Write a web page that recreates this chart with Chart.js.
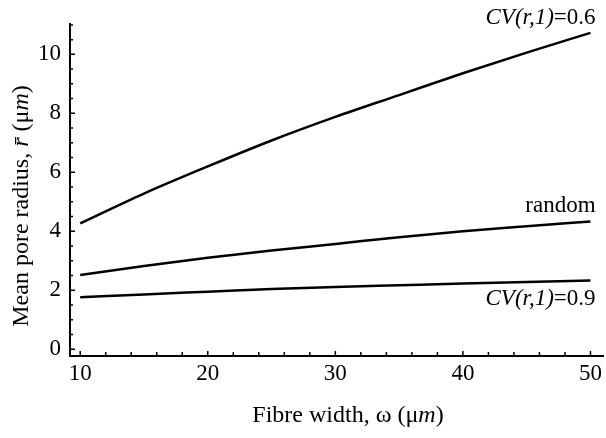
<!DOCTYPE html>
<html>
<head>
<meta charset="utf-8">
<script src="https://cdn.jsdelivr.net/npm/chart.js@4"></script>
<style>
  html, body { margin: 0; padding: 0; background: #fff; }
  #wrap { width: 606px; height: 438px; }
</style>
</head>
<body>
<div id="wrap"><canvas id="poreChart"></canvas></div>
<script>
const widths = [10, 15, 20, 25, 30, 35, 40, 45, 50];

const cv06 = [4.27, 5.28, 6.2, 7.08, 7.88, 8.62, 9.36, 10.06, 10.73];
const randomR = [2.52, 2.82, 3.1, 3.35, 3.57, 3.8, 4.0, 4.17, 4.33];
const cv09 = [1.76, 1.86, 1.95, 2.04, 2.11, 2.17, 2.23, 2.28, 2.33];

const xTicks = [10, 20, 30, 40, 50];
const yTicks = [0, 2, 4, 6, 8, 10];

const serif = '"Liberation Serif", "DejaVu Serif", serif';

// Right-side curve labels: [parts, x, y]
const curveLabels = [
  [[['CV(r,1)', true], ['=0.6', false]], 50.4, 11.25],
  [[['random', false]], 50.4, 4.85],
  [[['CV(r,1)', true], ['=0.9', false]], 50.4, 1.72]
];

function pts(ys) {
  return widths.map((w, i) => ({ x: w, y: ys[i] }));
}

function drawRich(ctx, parts, x, y, size, align) {
  let total = 0;
  parts.forEach(p => {
    ctx.font = (p[1] ? 'italic ' : '') + size + 'px ' + serif;
    total += ctx.measureText(p[0]).width;
  });
  let cx = align === 'right' ? x - total : (align === 'center' ? x - total / 2 : x);
  ctx.textAlign = 'left';
  ctx.textBaseline = 'middle';
  ctx.fillStyle = '#000';
  parts.forEach(p => {
    ctx.font = (p[1] ? 'italic ' : '') + size + 'px ' + serif;
    ctx.fillText(p[0], cx, y);
    cx += ctx.measureText(p[0]).width;
  });
}

const extras = {
  id: 'extras',
  afterDraw(chart) {
    const ctx = chart.ctx;
    const xs = chart.scales.x, ys = chart.scales.y;
    const area = chart.chartArea;
    ctx.save();
    ctx.strokeStyle = '#000';
    ctx.lineWidth = 1.5;
    // inward ticks
    ctx.beginPath();
    for (let v = 10; v <= 50; v += 2) {
      const px = xs.getPixelForValue(v);
      const len = xTicks.includes(v) ? 5 : 4;
      ctx.moveTo(px, area.bottom);
      ctx.lineTo(px, area.bottom - len);
    }
    for (let v = 0; v <= 11; v += 0.5) {
      const py = ys.getPixelForValue(v);
      const len = yTicks.includes(v) ? 5 : 3;
      ctx.moveTo(area.left, py);
      ctx.lineTo(area.left + len, py);
    }
    ctx.stroke();

    // curve labels
    curveLabels.forEach(l => {
      drawRich(ctx, l[0], xs.getPixelForValue(l[1]), ys.getPixelForValue(l[2]), 23, 'right');
    });

    // axis titles
    drawRich(ctx, [['Fibre width, \u03c9 (\u03bc', false], ['m', true], [')', false]], 348, 416, 24, 'center');
    ctx.translate(22, 206);
    ctx.rotate(-Math.PI / 2);
    drawRich(ctx, [['Mean pore radius, ', false], ['r\u0304', true], [' (\u03bc', false], ['m', true], [')', false]], 0, 0, 24, 'center');
    ctx.restore();
  }
};

const lineStyle = {
  borderColor: '#000',
  borderWidth: 2.5,
  pointRadius: 0,
  fill: false,
  cubicInterpolationMode: 'monotone'
};

new Chart(document.getElementById('poreChart').getContext('2d'), {
  type: 'line',
  data: {
    datasets: [
      Object.assign({ label: 'CV(r,1)=0.6', data: pts(cv06) }, lineStyle),
      Object.assign({ label: 'random', data: pts(randomR) }, lineStyle),
      Object.assign({ label: 'CV(r,1)=0.9', data: pts(cv09) }, lineStyle)
    ]
  },
  options: {
    responsive: true,
    maintainAspectRatio: false,
    animation: false,
    layout: { padding: { top: 24, right: 1, left: 0, bottom: 0 } },
    plugins: {
      legend: { display: false },
      tooltip: { enabled: false }
    },
    scales: {
      x: {
        type: 'linear',
        min: 9.2,
        max: 51,
        afterFit: s => { s.height = 82; },
        afterBuildTicks: s => { s.ticks = xTicks.map(v => ({ value: v })); },
        grid: { display: false, drawTicks: false },
        border: { display: true, color: '#000', width: 2 },
        ticks: {
          color: '#000',
          padding: 4,
          font: { family: serif, size: 23 }
        }
      },
      y: {
        min: -0.23,
        max: 11.03,
        afterFit: s => { s.width = 70; },
        afterBuildTicks: s => { s.ticks = yTicks.map(v => ({ value: v })); },
        grid: { display: false, drawTicks: false },
        border: { display: true, color: '#000', width: 2 },
        ticks: {
          color: '#000',
          padding: 9,
          font: { family: serif, size: 23 }
        }
      }
    }
  },
  plugins: [extras]
});
</script>
</body>
</html>
